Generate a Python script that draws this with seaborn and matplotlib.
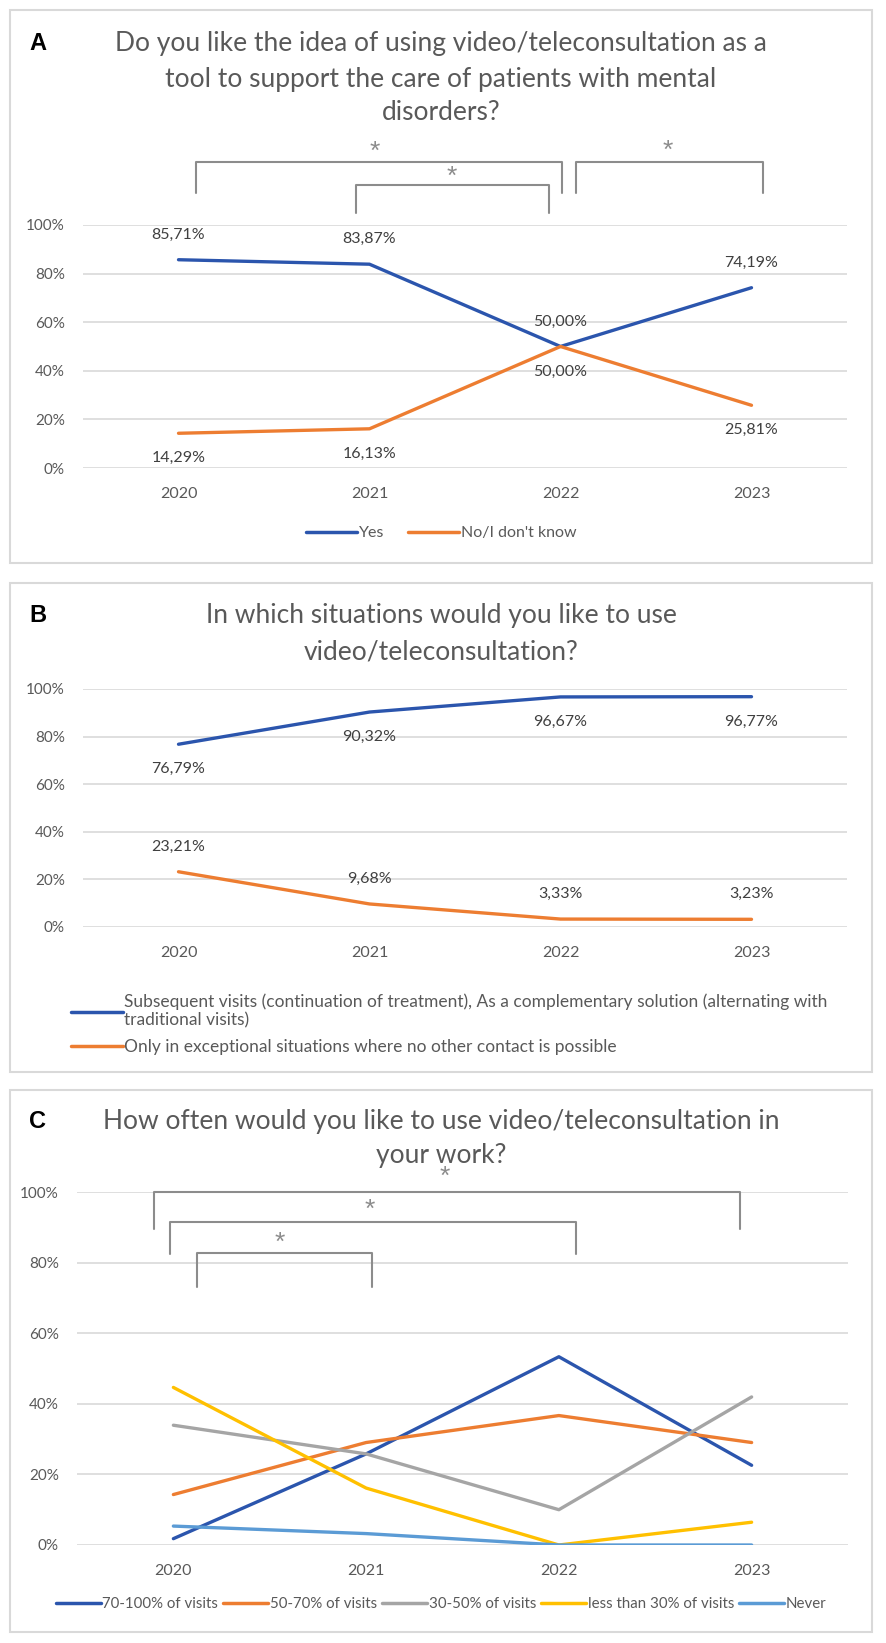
import pandas as pd
import seaborn as sns
import matplotlib.pyplot as plt
from matplotlib.patches import Rectangle

years = ['2020', '2021', '2022', '2023']

# panel A
a_series = ['Yes', "No/I don't know"]
a_yes = [85.71, 83.87, 50.00, 74.19]
a_no = [14.29, 16.13, 50.00, 25.81]

# panel B
b_series = ['Subsequent visits (continuation of treatment), As a complementary solution (alternating with\ntraditional visits)',
            'Only in exceptional situations where no other contact is possible']
b_subsequent = [76.79, 90.32, 96.67, 96.77]
b_exceptional = [23.21, 9.68, 3.33, 3.23]

# panel C
c_series = ['70-100% of visits', '50-70% of visits', '30-50% of visits', 'less than 30% of visits', 'Never']
c_70_100 = [1.79, 25.81, 53.33, 22.58]
c_50_70 = [14.29, 29.03, 36.67, 29.03]
c_30_50 = [33.93, 25.81, 10.00, 41.94]
c_less_30 = [44.64, 16.13, 0.00, 6.45]
c_never = [5.36, 3.23, 0.00, 0.00]

yticks = [0, 20, 40, 60, 80, 100]
ytick_labels = ['0%', '20%', '40%', '60%', '80%', '100%']

BLUE = '#2b55ad'
ORANGE = '#ed7d31'
GRAY = '#a5a5a5'
YELLOW = '#ffc000'
LIGHTBLUE = '#5b9bd5'
TXT = '#595959'
BRK = '#8c8c8c'

W, H = 886, 1643

sns.set_style('white')
plt.rcParams['font.family'] = ['Lato', 'DejaVu Sans']

fig = plt.figure(figsize=(W / 100, H / 100), dpi=100)


def fx(x):
    return x / W


def fy(y):
    return 1 - y / H


def make_axes(x0, y0, x1, y1):
    return fig.add_axes([fx(x0), fy(y1), fx(x1) - fx(x0), (y1 - y0) / H])


def long_df(series, values):
    rows = []
    for name, vals in zip(series, values):
        for yr, v in zip(years, vals):
            rows.append({'year': yr, 'value': v, 'series': name})
    return pd.DataFrame(rows)


def style_axes(ax):
    ax.set_xlim(-0.5, 3.5)
    ax.set_ylim(0, 100)
    ax.set_yticks(yticks)
    ax.set_yticklabels(ytick_labels)
    ax.set_xticks(range(len(years)))
    ax.set_xticklabels(years)
    ax.grid(axis='y', color='#d9d9d9', linewidth=1.2)
    ax.grid(axis='x', visible=False)
    ax.set_axisbelow(True)
    for s in ax.spines.values():
        s.set_visible(False)
    ax.tick_params(axis='y', length=0, pad=13, labelsize=11, labelcolor=TXT)
    ax.tick_params(axis='x', length=0, pad=14, labelsize=11.5, labelcolor=TXT)
    ax.set_xlabel('')
    ax.set_ylabel('')
    ax.set_facecolor('none')


def label_points(ax, vals, above):
    off = 18 if above else -18
    for i, v in enumerate(vals):
        ax.annotate(f'{v:.2f}%'.replace('.', ','), (i, v), xytext=(0, off),
                    textcoords='offset points', ha='center', va='center',
                    fontsize=11.5, color='#404040')


def bracket(ax, x0, x1, ytop, ybot, sx, sy):
    ax.plot([x0, x0, x1, x1], [ybot, ytop, ytop, ybot], color=BRK, lw=1.5,
            clip_on=False, solid_joinstyle='round')
    ax.text(sx, sy, '*', ha='center', va='center', color=BRK, fontsize=19,
            family='Liberation Sans', clip_on=False)


def panel_box(y0, y1, letter, title_lines):
    fig.patches.append(Rectangle((fx(10), fy(y1)), fx(872) - fx(10), (y1 - y0) / H,
                                 transform=fig.transFigure, facecolor='white',
                                 edgecolor='#d9d9d9', lw=1.5, zorder=-10))
    fig.text(fx(38), fy(title_lines[0][1]), letter, fontsize=17, fontweight='bold',
             family='Liberation Sans', ha='center', va='center', color='black')
    for txt, y in title_lines:
        fig.text(fx(441), fy(y), txt, fontsize=19, ha='center', va='center', color=TXT)


# ---------- A ----------
panel_box(10, 563, 'A', [('Do you like the idea of using video/teleconsultation as a', 43),
                         ('tool to support the care of patients with mental', 80),
                         ('disorders?', 113)])
axA = make_axes(83, 225, 847, 468)
dfA = long_df(a_series, [a_yes, a_no])
sns.lineplot(data=dfA, x='year', y='value', hue='series', palette=[BLUE, ORANGE],
             linewidth=2.4, ax=axA, legend=False, sort=False)
style_axes(axA)
label_points(axA, a_yes, True)
label_points(axA, a_no, False)
bracket(axA, 0.09, 2.01, 126, 113, 1.03, 130)
bracket(axA, 0.93, 1.94, 116.5, 105, 1.43, 120)
bracket(axA, 2.08, 3.06, 126, 113, 2.56, 130.5)
hA = [plt.Line2D([], [], color=c, lw=2.5) for c in [BLUE, ORANGE]]
fig.legend(hA, a_series, loc='center', bbox_to_anchor=(fx(441), fy(533)), ncol=2,
           frameon=False, fontsize=11.5, handlelength=3.2, handletextpad=0.1,
           columnspacing=1.5, labelcolor=TXT)

# ---------- B ----------
panel_box(583, 1072, 'B', [('In which situations would you like to use', 616),
                           ('video/teleconsultation?', 652)])
axB = make_axes(83, 689, 847, 927)
dfB = long_df(b_series, [b_subsequent, b_exceptional])
sns.lineplot(data=dfB, x='year', y='value', hue='series', palette=[BLUE, ORANGE],
             linewidth=2.4, ax=axB, legend=False, sort=False)
style_axes(axB)
label_points(axB, b_subsequent, False)
label_points(axB, b_exceptional, True)
hB = [plt.Line2D([], [], color=c, lw=2.5) for c in [BLUE, ORANGE]]
fig.legend(hB, b_series, loc='upper left', bbox_to_anchor=(fx(55), fy(978)), ncol=1,
           frameon=False, fontsize=12.5, handlelength=3.0, handletextpad=0.1,
           labelspacing=0.6, labelcolor=TXT)

# ---------- C ----------
panel_box(1090, 1632, 'C', [('How often would you like to use video/teleconsultation in', 1122),
                            ('your work?', 1155)])
axC = make_axes(77, 1192, 848, 1545)
dfC = long_df(c_series, [c_70_100, c_50_70, c_30_50, c_less_30, c_never])
sns.lineplot(data=dfC, x='year', y='value', hue='series',
             palette=[BLUE, ORANGE, GRAY, YELLOW, LIGHTBLUE],
             linewidth=2.4, ax=axC, legend=False, sort=False)
style_axes(axC)
bracket(axC, -0.1, 2.94, 100, 89.5, 1.41, 104.2)
bracket(axC, -0.02, 2.09, 91.5, 82.4, 1.02, 95)
bracket(axC, 0.12, 1.03, 82.7, 73.1, 0.55, 85.5)
hC = [plt.Line2D([], [], color=c, lw=2.5) for c in [BLUE, ORANGE, GRAY, YELLOW, LIGHTBLUE]]
fig.legend(hC, c_series, loc='center', bbox_to_anchor=(fx(441), fy(1604)), ncol=5,
           frameon=False, fontsize=10.8, handlelength=3.0, handletextpad=0.1,
           columnspacing=0.35, labelcolor=TXT)

fig.savefig('out.png', dpi=100, facecolor='white')
